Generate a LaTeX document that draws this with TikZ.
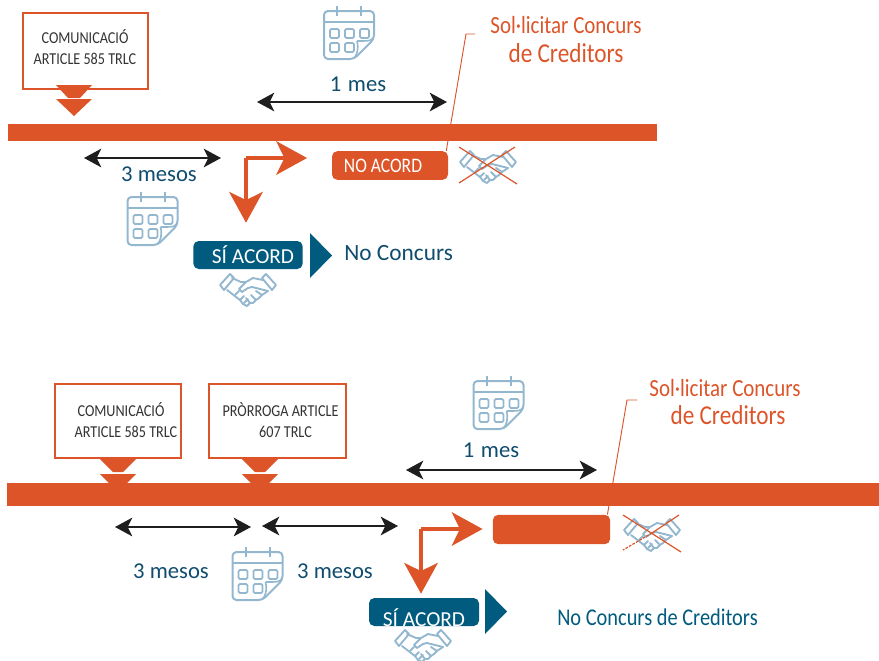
\documentclass[tikz,border=0pt]{standalone}
\usepackage{fontspec}
\setmainfont{Carlito}
\newfontfamily\nar[FakeStretch=0.85]{Carlito}
\usetikzlibrary{arrows.meta,calc}
\definecolor{orng}{HTML}{DD5429}
\definecolor{teal1}{HTML}{005B7F}
\definecolor{tealtx}{HTML}{0F4C6E}
\definecolor{cal}{HTML}{93B7CF}
\definecolor{txt}{HTML}{333333}
\definecolor{blk}{HTML}{1E1E1E}
\newcommand{\fs}[1]{\fontsize{#1}{#1}\selectfont}
\tikzset{
  x=0.75pt,y=-0.75pt,
  bar/.style={fill=orng,draw=none},
  notebox/.style={draw=orng,line width=1.5pt,fill=white,inner sep=0pt},
  boxtx/.style={text=txt,font=\nar\fs{12.5},inner sep=0pt,align=center},
  noacord/.style={fill=orng,rounded corners=4pt,text=white,inner sep=0pt,font=\nar\fs{15.5}},
  siacord/.style={fill=teal1,rounded corners=4pt,text=white,inner sep=0pt,font=\fs{16}},
  sitx/.style={text=white,inner sep=0pt,font=\fs{16}},
  dbl/.style={blk,line width=1.3pt,{Stealth[length=13pt,width=14pt,inset=3.5pt]}-{Stealth[length=13pt,width=14pt,inset=3.5pt]}},
  elb/.style={orng,line width=3.4pt,-{Stealth[length=23pt,width=25pt,inset=6pt]}},
  lead/.style={orng,line width=0.7pt},
  orgtx/.style={text=orng,font=\nar\fs{18.5},inner sep=0pt},
  orgbig/.style={text=orng,font=\nar\fs{20.5},inner sep=0pt},
  teatx/.style={text=tealtx,font=\fs{17},inner sep=0pt},
  teanar/.style={text=teal1,font=\nar\fs{18},inner sep=0pt},
  tip/.style={fill=orng,draw=none},
  tri/.style={fill=teal1,draw=none},
  calicon/.pic={
    \draw[cal,line width=1.5pt,line join=round,rounded corners=3pt]
      (-25,-22)--(25,-22)--(25,6)--(5,26)--(-25,26)--cycle;
    \draw[cal,line width=1.2pt,line join=round] (24,5) .. controls (22,8) and (20,8) .. (8,8) (8,8) .. controls (10,16) and (8,22) .. (5,25);
    \draw[cal,line width=1.5pt] (-25,-11)--(25,-11) (-12,-27)--(-12,-17) (12,-27)--(12,-17);
    \foreach \px in {-19,-4,11}{\draw[cal,line width=1.4pt,rounded corners=1pt] (\px,-4) rectangle ++(9,9);}
    \foreach \px in {-19,-4}{\draw[cal,line width=1.4pt,rounded corners=1pt] (\px,10) rectangle ++(9,9);}
  },
  shake/.pic={
    \begin{scope}[cal,line width=1.4pt,line join=round,line cap=round]
    \draw (-28,-5)--(-18,-16)--(-14,-12)--(-24,0)--cycle;
    \draw (28,-5)--(18,-16)--(14,-12)--(24,0)--cycle;
    \draw (-16,-12)--(-7,-8)--(-3,-8);
    \draw (15,-10)--(5,-12)--(-2,-8)--(-9,-1)--(-6,2)--(0,-2)--(4,-3)--(20,1);
    \draw (-21,0)--(-8,10)--(-5,14)--(-1,16)--(2,13)--(5,13)--(8,10)--(11,8)--(14,5)--(20,1);
    \draw (-13,5)--(-9,1) (-8,10)--(-4,6) (-4,13)--(0,9) (2,13)--(-2,8) (8,10)--(3,5) (14,5)--(8,1);
    \end{scope}
  }
}
\begin{document}
\begin{tikzpicture}
\useasboundingbox (0,0) rectangle (879,661);
% ---------- upper timeline
\fill[bar] (8,124) rectangle (657,141);
\node[notebox,minimum width=94pt,minimum height=57.5pt] (com1) at (85.5,51) {};
\node[boxtx] (com1t) at (85,47) {COMUNICACIÓ\\[3.5pt]ARTICLE 585 TRLC};
\fill[tip] (56,85)--(92,85)--(80,98)--(68,98)--cycle;
\fill[tip] (56,99)--(92,99)--(74,116)--cycle;
\pic at (349,33) {calicon};
\node[teatx] (mes1) at (358,84) {1\hspace{5pt}mes};
\coordinate (m1a) at (257,102); \coordinate (m1b) at (447,102);
\draw[dbl] (m1a)--(m1b);
\coordinate (t1a) at (84,158); \coordinate (t1b) at (221,158);
\draw[dbl] (t1a)--(t1b);
\node[teatx] (tm1) at (159,174) {3 mesos};
\pic at (152.5,219) {calicon};
\node[noacord,minimum width=87pt,minimum height=21.5pt] (no1) at (390,165.5) {NO ACORD\hspace*{10.5pt}};
\node[siacord,minimum width=82pt,minimum height=21pt] (si1) at (248,255) {\hspace*{7.5pt}SÍ ACORD};
\coordinate (el1) at (246,158);
\draw[elb,shorten >=18.5pt] (el1)--(el1-|no1.west);
\draw[elb,shorten >=13.5pt] (el1)--(el1|-si1.north);
\fill[tri] (310,233)--(332,255.5)--(310,278)--cycle;
\node[teatx,anchor=west,font=\fs{17.5}] (nc1) at (344,253) {No Concurs};
\node[orgtx] (sol1) at (566,25) {Sol·licitar Concurs};
\node[orgbig] (cre1) at (566,53) {de Creditors};
\coordinate (ld1) at (466,34); \coordinate (ld1e) at (475,34);
\draw[lead] (no1.north east)++(-2,0)--(ld1)--(ld1e);
\pic at (488,167) {shake};
\draw[orng,line width=0.9pt] (459,147)--(517,184) (459,183)--(515,147);
\pic at (248,290) {shake};
% ---------- lower timeline
\fill[bar] (7,483) rectangle (879,506);
\node[notebox,minimum width=95pt,minimum height=55pt] (com2) at (118,421) {};
\node[boxtx] (com2t) at (126,420) {COMUNICACIÓ\hspace*{7.5pt}\\[3.5pt]ARTICLE 585 TRLC};
\node[notebox,minimum width=103pt,minimum height=55pt] (pro2) at (277.5,421) {};
\node[boxtx] (pro2t) at (280.5,420) {PRÒRROGA ARTICLE\\[3.5pt]\hspace*{7.5pt}607 TRLC};
\fill[tip] (100,459)--(136,459)--(123,472)--(113,472)--cycle;
\fill[tip] (100,474)--(136,474)--(118,492)--cycle;
\fill[tip] (242,459)--(278,459)--(265,472)--(255,472)--cycle;
\fill[tip] (242,474)--(278,474)--(260,492)--cycle;
\pic at (498.5,403) {calicon};
\node[teatx] (mes2) at (491,450) {1\hspace{5pt}mes};
\coordinate (m2a) at (406,470); \coordinate (m2b) at (597,470);
\draw[dbl] (m2a)--(m2b);
\coordinate (t2a) at (115,527); \coordinate (t2b) at (251,527);
\draw[dbl] (t2a)--(t2b);
\coordinate (t3a) at (262,526); \coordinate (t3b) at (398,526);
\draw[dbl] (t3a)--(t3b);
\node[teatx] (tm2) at (171,571) {3 mesos};
\node[teatx] (tm3) at (335,571) {3 mesos};
\pic at (257.5,574) {calicon};
\node[fill=orng,rounded corners=4pt,inner sep=0pt,minimum width=88pt,minimum height=22pt] (no2) at (551.5,529.5) {};
\node[siacord,minimum width=82.5pt,minimum height=21pt] (si2) at (424,612) {};
\node[sitx] (si2t) at (424,618) {SÍ ACORD};
\coordinate (el2) at (421,529);
\draw[elb,shorten >=7.5pt] (el2)--(el2-|no2.west);
\draw[elb,shorten >=3pt] (el2)--(el2|-si2.north);
\fill[tri] (485,589)--(507,611.5)--(485,634)--cycle;
\node[teanar,anchor=west] (nc2) at (557,617) {No Concurs de Creditors};
\node[orgtx] (sol2) at (725,388) {Sol·licitar Concurs};
\node[orgbig] (cre2) at (728,415) {de Creditors};
\coordinate (ld2) at (627,400); \coordinate (ld2e) at (637,400);
\draw[lead] (no2.north east)++(-3,0)--(ld2)--(ld2e);
\pic at (652,535) {shake};
\draw[orng,line width=0.9pt] (623,515)--(681,552) (679,515)--(652,533);
\draw[orng,line width=0.9pt,dashed,dash pattern=on 2pt off 1pt] (652,533)--(623,550);
\pic at (423,646) {shake};
\end{tikzpicture}
\end{document}
